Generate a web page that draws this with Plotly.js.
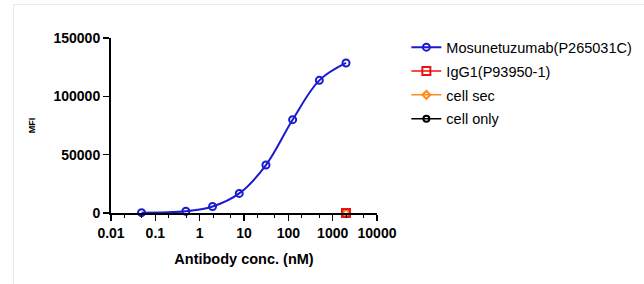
<!DOCTYPE html>
<html>
<head>
<meta charset="utf-8">
<script src="https://cdn.plot.ly/plotly-3.0.1.min.js"></script>
<style>
  html, body { margin: 0; padding: 0; background: #fff; }
  #frame { position: absolute; left: 13px; top: 4px; width: 630px; height: 282px; border: 1px solid #e3ecf8; border-bottom: none; border-right: 1px solid #f0f4fa; }
  #chart { position: absolute; left: 0; top: 0; width: 644px; height: 284px; }
</style>
</head>
<body>
<div id="frame"></div>
<div id="chart"></div>
<script>
const conc = [0.0488, 0.488, 1.953, 7.8125, 31.25, 125, 500, 2000];
const mosunetuzumab = [300, 1500, 5600, 16800, 41100, 80000, 113700, 128600];
const igg1Conc = [2000];
const igg1 = [0];
const cellSecConc = [2000];
const cellSec = [0];
const cellOnlyConc = [2000];
const cellOnly = [0];
const xTickVals = [0.01, 0.1, 1, 10, 100, 1000, 10000];
const xTickText = ['0.01', '0.1', '1', '10', '100', '1000', '10000'];
const yTickVals = [0, 50000, 100000, 150000];
const yTickText = ['0', '50000', '100000', '150000'];

const FONT = 'Liberation Sans, Arial, sans-serif';
const traces = [
  { x: cellOnlyConc, y: cellOnly, name: 'cell only', legendrank: 4, legendgroup: 'd', mode: 'lines+markers',
    line: { color: '#000000', width: 1.5 },
    marker: { symbol: 'circle-open', size: 6, color: '#000000', line: { width: 2 } }, cliponaxis: false },
  { x: cellSecConc, y: cellSec, name: 'cell sec', legendrank: 3, legendgroup: 'c', mode: 'lines+markers',
    line: { color: '#ff8c1a', width: 1.5 },
    marker: { symbol: 'diamond-open', size: 6, color: '#ff8c1a', line: { width: 2 } }, cliponaxis: false },
  { x: igg1Conc, y: igg1, name: 'IgG1(P93950-1)', legendrank: 2, legendgroup: 'b', mode: 'lines+markers',
    line: { color: '#ee1111', width: 1.5 },
    marker: { symbol: 'square-open', size: 8, color: '#ee1111', line: { width: 2 } }, cliponaxis: false },
  { x: conc, y: mosunetuzumab, name: 'Mosunetuzumab(P265031C)', legendrank: 1, legendgroup: 'a', mode: 'lines+markers',
    line: { color: '#1a1ad0', width: 2, shape: 'spline', smoothing: 1 },
    marker: { symbol: 'circle-open', size: 7, color: '#1a1ad0', line: { width: 2 } }, cliponaxis: false }
];

const layout = {
  width: 644, height: 284,
  margin: { l: 111, r: 267, t: 38, b: 71 },
  paper_bgcolor: 'rgba(0,0,0,0)', plot_bgcolor: 'rgba(0,0,0,0)',
  font: { family: FONT, color: '#000' },
  showlegend: true,
  legend: { xref: 'container', yref: 'container', x: 0.631, xanchor: 'left', y: 0.89, yanchor: 'top',
    traceorder: 'grouped',
    font: { size: 14.5, family: FONT, color: '#000' },
    itemwidth: 30, tracegroupgap: 2, bgcolor: 'rgba(0,0,0,0)' },
  xaxis: {
    type: 'log', range: [-2, 4], tickmode: 'array', tickvals: xTickVals, ticktext: xTickText,
    automargin: false,
    showgrid: false, zeroline: false, showline: true, linecolor: '#000', linewidth: 2,
    ticks: 'outside', ticklen: 6, tickwidth: 1.5, tickcolor: '#000',
    minor: { ticks: 'outside', ticklen: 3, tickwidth: 1, tickcolor: '#000', showgrid: false },
    tickfont: { size: 14, family: FONT, weight: 'bold' },
    title: { text: '<b>Antibody conc. (nM)</b>', font: { size: 14.5 }, standoff: 14 }
  },
  yaxis: {
    range: [0, 150000], tickmode: 'array', tickvals: yTickVals, ticktext: yTickText,
    automargin: false,
    showgrid: false, zeroline: false, showline: true, linecolor: '#000', linewidth: 2,
    ticks: 'outside', ticklen: 6, tickwidth: 1.5, tickcolor: '#000',
    tickfont: { size: 14, family: FONT, weight: 'bold' },
    title: { text: '<b>MFI</b>', font: { size: 9 }, standoff: 16 }
  }
};

Plotly.newPlot('chart', traces, layout, { displayModeBar: false, staticPlot: true });
</script>
</body>
</html>
